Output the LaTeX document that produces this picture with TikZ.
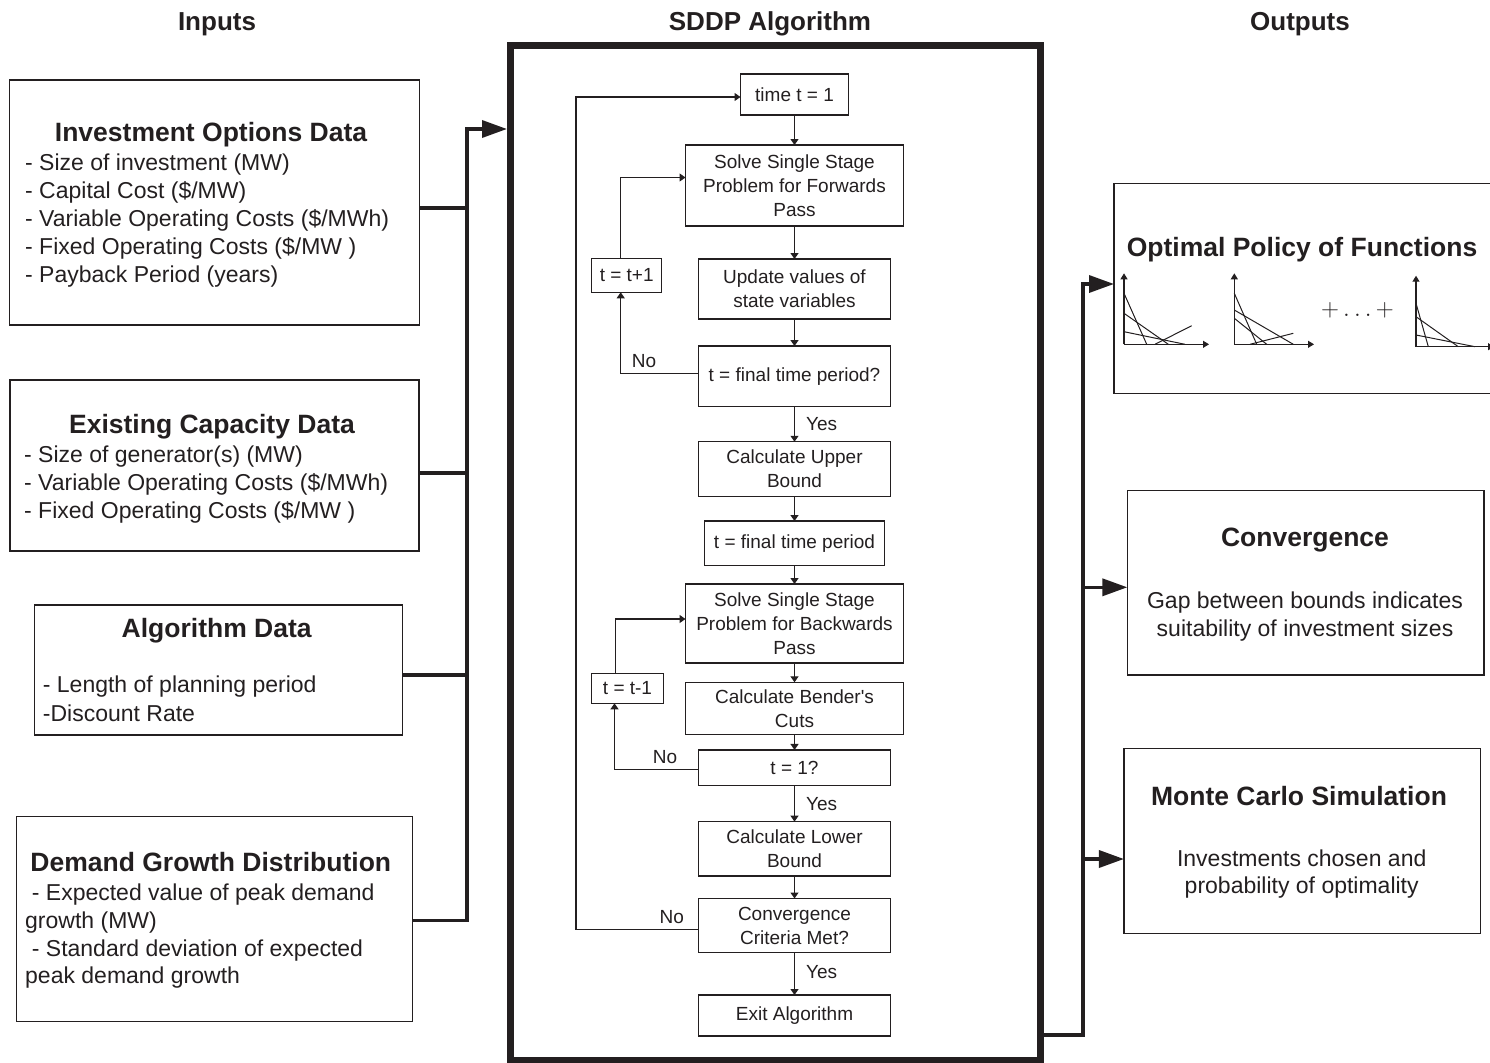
\documentclass[tikz,border=0pt]{standalone}
\usepackage[no-math]{fontspec}
\setmainfont{Liberation Sans}
\usetikzlibrary{arrows.meta}

\definecolor{ink}{HTML}{231F20}

% font sizes (1 unit = 1pt)
\newcommand\hdfont{\fontsize{26}{30}\selectfont\bfseries}
\newcommand\ttlfont{\fontsize{26.5}{30}\selectfont\bfseries}
\newcommand\bdfont{\fontsize{23}{28}\selectfont}
\newcommand\fcfont{\fontsize{19}{24}\selectfont}

\tikzset{
  panel/.style={draw=ink, line width=1.2pt, inner sep=0pt, outer sep=0pt},
  stage/.style={draw=ink, line width=1.2pt, align=center, inner sep=0pt,
    outer sep=0pt, font=\fcfont},
  flow/.style={draw=ink, line width=1.2pt},
  flowarrow/.style={flow, -{Triangle[length=6pt,width=8pt]}},
  bus/.style={draw=ink, line width=3.5pt},
  busarrow/.style={bus, -{Triangle[length=25pt,width=17pt]}},
  axis/.style={draw=ink, line width=1.1pt, -{Triangle[length=6pt,width=7pt]}},
  cut/.style={draw=ink, line width=1pt},
  hd/.style={font=\hdfont, inner sep=0pt, anchor=base},
  ttl/.style={font=\ttlfont, inner sep=0pt, anchor=base},
  bd/.style={font=\bdfont, inner sep=0pt, anchor=base west},
  bdc/.style={font=\bdfont, inner sep=0pt, anchor=base},
  lbl/.style={font=\fcfont, inner sep=0pt},
}

\begin{document}
\begin{tikzpicture}[x=1pt, y=-1pt, color=ink]
\useasboundingbox (0,0) rectangle (1490,1062);

% ---------- column headings ----------
\node[hd] (hIn)  at (217,31)  {Inputs};
\node[hd] (hAlg) at (770,31)  {SDDP Algorithm};
\node[hd] (hOut) at (1300,31) {Outputs};

% ---------- input panels ----------
\node[panel, minimum width=410, minimum height=245] (inv) at (214.3,202.5) {};
\node[ttl] (invT) at (211,141) {Investment Options Data};
\foreach \t [count=\i] in {{- Size of investment (MW)}, {- Capital Cost (\$/MW)},
    {- Variable Operating Costs (\$/MWh)}, {- Fixed Operating Costs (\$/MW )},
    {- Payback Period (years)}}
  {\node[bd] (inv-\i) at (25,{170+28.1*(\i-1)}) {\t};}

\node[panel, minimum width=409, minimum height=171] (exist) at (214.5,465.5) {};
\node[ttl] (existT) at (212,433) {Existing Capacity Data};
\foreach \t [count=\i] in {{- Size of generator(s) (MW)},
    {- Variable Operating Costs (\$/MWh)}, {- Fixed Operating Costs (\$/MW )}}
  {\node[bd] (exist-\i) at (24,{462+28*(\i-1)}) {\t};}

\node[panel, minimum width=368.4, minimum height=130] (alg) at (218.5,670) {};
\node[ttl] (algT) at (216.7,637) {Algorithm Data};
\node[bd] (alg-1) at (42.7,692.7) {- Length of planning period};
\node[bd] (alg-2) at (42.7,721)   {-Discount Rate};

\node[panel, minimum width=395.6, minimum height=205] (dem) at (214.5,919.2) {};
\node[ttl] (demT) at (210.8,871) {Demand Growth Distribution};
\node[bd] (dem-1) at (31.7,900.7) {- Expected value of peak demand};
\node[bd] (dem-2) at (25,928.5)   {growth (MW)};
\node[bd] (dem-3) at (31.7,956.7) {- Standard deviation of expected};
\node[bd] (dem-4) at (25,983.5)   {peak demand growth};

% ---------- SDDP frame ----------
\node[draw=ink, line width=7pt, minimum width=530, minimum height=1015,
  inner sep=0pt] (sddp) at (775.5,553) {};

% ---------- input bus ----------
\coordinate (busTop) at (467,129);
\draw[busarrow] ([yshift=-1.5pt]dem.east) -| (busTop) -- (busTop -| sddp.west);
\draw[bus] ([yshift=-5.5pt]inv.east) -- ([yshift=-5.5pt]inv.east -| busTop);
\draw[bus] ([yshift=-7.5pt]exist.east) -- ([yshift=-7.5pt]exist.east -| busTop);
\draw[bus] ([yshift=-5pt]alg.east) -- ([yshift=-5pt]alg.east -| busTop);

% ---------- flowchart stages ----------
\node[stage, minimum width=108, minimum height=41] (time) at (794.5,94.5) {time t = 1};
\node[stage, minimum width=218, minimum height=81] (fwd) at (794.5,185.5)
  {Solve Single Stage\\Problem for Forwards\\Pass};
\node[stage, minimum width=192, minimum height=60] (upd) at (794.5,289)
  {Update values of\\state variables};
\node[stage, minimum width=192, minimum height=60.5] (fin) at (794.5,376.3)
  {t = final time period?};
\node[stage, minimum width=192, minimum height=54.5] (ub) at (794.5,469)
  {Calculate Upper\\Bound};
\node[stage, minimum width=180, minimum height=44.5] (tfin) at (794.5,543.3)
  {t = final time period};
\node[stage, minimum width=218, minimum height=79] (bwd) at (794.5,623.5)
  {Solve Single Stage\\Problem for Backwards\\Pass};
\node[stage, minimum width=218, minimum height=52] (cuts) at (794.5,708.3)
  {Calculate Bender\textquotesingle s\\Cuts};
\node[stage, minimum width=192, minimum height=35.7] (tone) at (794.5,767.8) {t = 1?};
\node[stage, minimum width=192, minimum height=54.3] (lb) at (794.5,848.8)
  {Calculate Lower\\Bound};
\node[stage, minimum width=192, minimum height=54] (cvg) at (794.5,925.5)
  {Convergence\\Criteria Met?};
\node[stage, minimum width=192, minimum height=41] (ex) at (794.5,1015.5)
  {Exit Algorithm};
\node[stage, minimum width=70, minimum height=34] (tplus) at (626.7,275.3) {t = t+1};
\node[stage, minimum width=71.6, minimum height=30] (tminus) at (627.5,688.3) {t = t-1};

% main sequence
\draw[flowarrow] (time) -- (fwd);
\draw[flowarrow] (fwd) -- (upd);
\draw[flowarrow] (upd) -- (fin);
\draw[flowarrow] (fin) -- (ub);
\draw[flowarrow] (ub) -- (tfin);
\draw[flowarrow] (tfin) -- (bwd);
\draw[flowarrow] (bwd) -- (cuts);
\draw[flowarrow] (cuts) -- (tone);
\draw[flowarrow] (tone) -- (lb);
\draw[flowarrow] (lb) -- (cvg);
\draw[flowarrow] (cvg) -- (ex);

\node[lbl] (yes1) at (821.7,424.5) {Yes};
\node[lbl] (yes2) at (821.7,804)   {Yes};
\node[lbl] (yes3) at (821.7,972.5) {Yes};

% forward-pass loop
\draw[flowarrow] ([yshift=3pt]fin.west) -| ([xshift=-6pt]tplus.south);
\draw[flowarrow] ([xshift=-6pt]tplus.north) |- ([yshift=8pt]fwd.west);
\node[lbl] (no1) at (644,361) {No};

% backward-pass loop
\draw[flowarrow] ([yshift=-2pt]tone.west) -| ([xshift=-13pt]tminus.south);
\draw[flowarrow] ([xshift=-12pt]tminus.north) |- ([yshift=4.5pt]bwd.west);
\node[lbl] (no2) at (665,757.5) {No};

% outer iteration loop
\coordinate (loopL) at (576,97);
\draw[flowarrow] ([yshift=-4pt]cvg.west) -| (loopL) -- (loopL -| time.west);
\node[lbl] (no3) at (671.7,917.5) {No};

% ---------- output panels ----------
\node[panel, minimum width=386, minimum height=210] (pol) at (1307,288.3) {};
\node[ttl] (polT) at (1302,256) {Optimal Policy of Functions};

\node[panel, minimum width=356.7, minimum height=184.3] (oconv) at (1305.7,582.9) {};
\node[ttl] (oconvT) at (1305,546.7) {Convergence};
\node[bdc] (oconv-1) at (1305,608) {Gap between bounds indicates};
\node[bdc] (oconv-2) at (1305,636) {suitability of investment sizes};

\node[panel, minimum width=356.7, minimum height=185] (mc) at (1302.3,840.8) {};
\node[ttl] (mcT) at (1299,805) {Monte Carlo Simulation};
\node[bdc] (mc-1) at (1301.7,866.7) {Investments chosen and};
\node[bdc] (mc-2) at (1301.7,893.3) {probability of optimality};

% ---------- output bus ----------
\coordinate (obusTop) at (1083,284);
\draw[busarrow] ([yshift=29pt]sddp.south east) -| (obusTop) -- (obusTop -| pol.west);
\draw[busarrow] ([yshift=-4.4pt]oconv.west -| obusTop) -- ([yshift=-4.4pt]oconv.west);
\draw[busarrow] ([yshift=-18.2pt]mc.west -| obusTop) -- ([yshift=-18.2pt]mc.west);

% ---------- value-function sketches ----------
% first
\draw[axis] (1124,344.3) -- (1124,273.3);
\draw[axis] (1124,344.3) -- (1209,344.3);
\draw[cut] (1124,293.3) -- (1146.7,344.3);
\draw[cut] (1124,313.3) -- (1168.3,344.3);
\draw[cut] (1124,331.7) -- (1185,344.3);
\draw[cut] (1155,344.3) -- (1191.7,325.7);
% second
\draw[axis] (1234.3,344.3) -- (1234.3,273.3);
\draw[axis] (1234.3,344.3) -- (1314,344.3);
\draw[cut] (1234.3,293.3) -- (1256.7,344.3);
\draw[cut] (1234.3,310) -- (1293.3,344.3);
\draw[cut] (1234.3,318.3) -- (1266.7,344.3);
\draw[cut] (1250,344.3) -- (1293.3,333.3);
% ellipsis between the sketches
\node[inner sep=0pt, anchor=base, font=\fontsize{31}{34}\selectfont] (dots) at (1357.5,316.5)
  {$+\ldots+$};
% last
\draw[axis] (1416,346.7) -- (1416,275.7);
\draw[axis] (1416,346.7) -- (1494,346.7);
\draw[cut] (1416,303.3) -- (1428.3,346.7);
\draw[cut] (1416,316.7) -- (1458.3,346.7);
\draw[cut] (1416,335) -- (1475,346.7);
\end{tikzpicture}
\end{document}
